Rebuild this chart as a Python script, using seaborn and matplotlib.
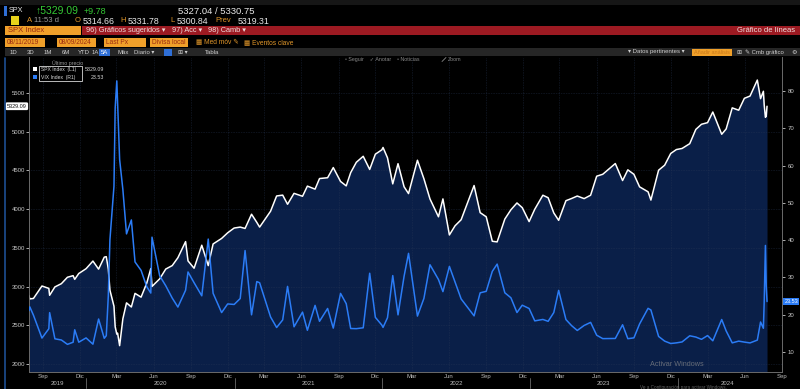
import pandas as pd
import seaborn as sns
import matplotlib.pyplot as plt
import matplotlib.dates as mdates
from matplotlib.patches import Rectangle
from matplotlib.transforms import blended_transform_factory

# Datos (cierres aproximados SPX / VIX)
fechas = [
    "2019-08-12", "2019-08-14", "2019-08-23", "2019-09-13", "2019-09-30", "2019-10-02",
    "2019-10-15", "2019-10-31", "2019-11-15", "2019-11-29", "2019-12-03", "2019-12-13",
    "2019-12-31", "2020-01-17", "2020-01-31", "2020-02-14", "2020-02-19", "2020-02-24",
    "2020-02-28", "2020-03-09", "2020-03-12", "2020-03-16", "2020-03-18", "2020-03-23",
    "2020-03-31", "2020-04-09", "2020-04-21", "2020-04-30", "2020-05-15", "2020-05-29",
    "2020-06-08", "2020-06-11", "2020-06-30", "2020-07-15", "2020-07-31", "2020-08-14",
    "2020-09-02", "2020-09-08", "2020-09-23", "2020-10-12", "2020-10-28", "2020-11-09",
    "2020-11-30", "2020-12-15", "2020-12-31", "2021-01-15", "2021-01-27", "2021-02-12",
    "2021-02-25", "2021-03-04", "2021-03-31", "2021-04-15", "2021-04-30", "2021-05-12",
    "2021-05-28", "2021-06-18", "2021-06-30", "2021-07-19", "2021-07-30", "2021-08-19",
    "2021-09-02", "2021-09-20", "2021-10-04", "2021-10-15", "2021-10-29", "2021-11-15",
    "2021-12-01", "2021-12-15", "2021-12-31", "2022-01-03", "2022-01-14", "2022-01-27",
    "2022-02-09", "2022-02-24", "2022-03-07", "2022-03-29", "2022-04-14", "2022-04-29",
    "2022-05-20", "2022-05-31", "2022-06-16", "2022-06-30", "2022-07-15", "2022-08-16",
    "2022-08-31", "2022-09-15", "2022-09-30", "2022-10-12", "2022-10-31", "2022-11-15",
    "2022-11-30", "2022-12-13", "2022-12-30", "2023-01-13", "2023-02-02", "2023-02-15",
    "2023-03-01", "2023-03-13", "2023-03-31", "2023-04-14", "2023-04-28", "2023-05-15",
    "2023-05-31", "2023-06-15", "2023-06-30", "2023-07-31", "2023-08-18", "2023-08-31",
    "2023-09-15", "2023-09-29", "2023-10-20", "2023-10-27", "2023-11-15", "2023-11-30",
    "2023-12-15", "2023-12-29", "2024-01-12", "2024-01-31", "2024-02-15", "2024-02-29",
    "2024-03-15", "2024-03-28", "2024-04-19", "2024-04-30", "2024-05-15", "2024-05-31",
    "2024-06-14", "2024-06-28", "2024-07-16", "2024-07-24", "2024-07-31", "2024-08-02",
    "2024-08-05", "2024-08-07", "2024-08-09",
]
spx = [
    2883.1, 2840.6, 2847.1, 3007.4, 2976.7, 2887.6, 2995.7, 3037.6, 3120.5, 3141.0, 3093.2, 3168.8,
    3230.8, 3329.6, 3225.5, 3380.2, 3386.2, 3225.9, 2954.2, 2746.6, 2480.6, 2386.1, 2398.1, 2237.4,
    2584.6, 2789.8, 2736.6, 2912.4, 2863.7, 3044.3, 3232.4, 3002.1, 3100.3, 3226.6, 3271.1, 3372.9,
    3580.8, 3331.8, 3236.9, 3534.2, 3271.0, 3550.5, 3621.6, 3694.6, 3756.1, 3768.3, 3750.8, 3934.8,
    3829.3, 3768.5, 3972.9, 4170.4, 4181.2, 4063.0, 4204.1, 4166.5, 4297.5, 4258.5, 4395.3, 4405.8,
    4537.0, 4357.7, 4300.5, 4471.4, 4605.4, 4682.8, 4513.0, 4709.9, 4766.2, 4796.6, 4662.9, 4326.5,
    4587.2, 4288.7, 4201.1, 4631.6, 4392.6, 4131.9, 3901.4, 4132.2, 3666.8, 3785.4, 3863.2, 4305.2,
    3955.0, 3901.4, 3585.6, 3577.0, 3872.0, 3991.7, 4080.1, 4019.7, 3839.5, 3999.1, 4179.8, 4147.6,
    3951.4, 3855.8, 4109.3, 4137.6, 4169.5, 4136.3, 4179.8, 4425.8, 4450.4, 4589.0, 4369.7, 4507.7,
    4450.3, 4288.1, 4224.2, 4117.4, 4502.9, 4567.8, 4719.2, 4769.8, 4783.8, 4845.7, 5029.7, 5096.3,
    5117.1, 5254.4, 4967.2, 5035.7, 5308.2, 5277.5, 5431.6, 5460.5, 5667.2, 5427.1, 5522.3, 5346.6,
    5186.3, 5199.5, 5329.09,
]
vix = [
    21.09, 22.10, 19.87, 13.74, 16.24, 20.56, 13.54, 13.22, 12.05, 12.62, 15.96, 12.63,
    13.78, 12.10, 18.84, 13.68, 14.38, 25.03, 40.11, 54.46, 75.47, 82.69, 76.45, 61.59,
    53.54, 41.67, 45.41, 34.15, 31.89, 27.51, 25.81, 40.79, 30.43, 27.76, 24.46, 22.05,
    26.57, 31.46, 28.58, 25.07, 40.28, 25.75, 20.57, 22.89, 22.75, 24.34, 37.21, 19.97,
    28.89, 28.57, 19.40, 16.57, 18.61, 27.59, 16.76, 20.70, 15.83, 22.50, 18.24, 21.67,
    16.41, 25.71, 22.96, 16.30, 16.26, 16.49, 31.12, 19.29, 17.22, 16.60, 19.19, 30.49,
    19.96, 30.32, 36.45, 19.63, 24.37, 33.40, 29.43, 26.19, 32.95, 28.71, 24.23, 19.69,
    25.87, 26.27, 31.62, 33.57, 25.88, 24.54, 20.58, 22.55, 21.67, 18.35, 18.73, 18.23,
    20.58, 26.52, 18.70, 17.07, 15.78, 17.12, 17.94, 14.50, 13.59, 13.63, 17.30, 13.57,
    13.79, 17.52, 21.71, 21.27, 14.18, 12.92, 12.28, 12.45, 12.70, 14.35, 14.01, 13.40,
    14.41, 13.01, 18.71, 15.65, 12.45, 12.92, 12.66, 12.44, 13.19, 18.04, 16.36, 23.39,
    38.57, 27.85, 23.53,
]
spx_ticks = [2000, 2500, 3000, 3500, 4000, 4500, 5000, 5500]
vix_ticks = [10, 20, 30, 40, 50, 60, 70, 80]
meses = {3: "Mar", 6: "Jun", 9: "Sep", 12: "Dic"}

df = pd.DataFrame({"fecha": pd.to_datetime(fechas), "spx": spx, "vix": vix})

sns.set_theme(style="dark")
plt.rcParams["font.family"] = ["Liberation Sans", "DejaVu Sans"]

W, H = 800, 389
fig = plt.figure(figsize=(8, 3.89), dpi=100, facecolor="black")


def fx(x):
    return x / W


def fy(y):
    return 1 - y / H


def rect(x0, y0, x1, y1, color, ec="none", lw=0.6):
    fig.patches.append(Rectangle((fx(x0), fy(y1)), (x1 - x0) / W, (y1 - y0) / H,
                                 transform=fig.transFigure, facecolor=color,
                                 edgecolor=ec, linewidth=lw))


def txt(x, y, s, color="#d0d0d0", size=5, ha="left", **kw):
    fig.text(fx(x), fy(y), s, color=color, fontsize=size, ha=ha, va="center", **kw)


# ---- cabecera estilo terminal ----
rect(0, 0, 800, 5, "#161616")
rect(4, 6, 7, 16, "#2f6fd6")
txt(9, 11, "SPX", "#e8e8e8", 5.2)
txt(36, 11, "↑5329.09", "#35c935", 7.5)
txt(84, 11, "+9.78", "#35c935", 6.5)
txt(178, 11, "5327.04 / 5330.75", "#e8e8e8", 6.8)
rect(11, 16, 19, 25, "#e8d31a")
txt(27, 21, "A", "#e0962a", 5.5)
txt(34, 21, "11:53 d", "#9a9a9a", 5.5)
txt(75, 21, "O", "#e0962a", 5.5)
txt(83, 21, "5314.66", "#e8e8e8", 6.3)
txt(120, 21, "H", "#e0962a", 5.5)
txt(128, 21, "5331.78", "#e8e8e8", 6.3)
txt(170, 21, "L", "#e0962a", 5.5)
txt(177, 21, "5300.84", "#e8e8e8", 6.3)
txt(215, 21, "Prev", "#e0962a", 5.5)
txt(238, 21, "5319.31", "#e8e8e8", 6.3)

rect(5, 26, 81, 35, "#f0a02a")
txt(8, 30.5, "SPX Index", "#9a2a10", 5.5)
rect(82, 26, 800, 35, "#9c1a22")
txt(86, 30.5, "96) Gráficos sugeridos ▾", "#f0dede", 5.3)
txt(172, 30.5, "97) Acc ▾", "#f0dede", 5.3)
txt(208, 30.5, "98) Camb ▾", "#f0dede", 5.3)
txt(795, 30.5, "Gráfico de líneas", "#f0dede", 5.5, ha="right")

rect(5, 38, 45, 47, "#f0a02a")
txt(7, 42.5, "08/11/2019", "#9a2a10", 4.8)
rect(57, 38, 96, 47, "#f0a02a")
txt(59, 42.5, "08/09/2024", "#9a2a10", 4.8)
rect(104, 38, 146, 47, "#f0a02a")
txt(106, 42.5, "Last Px", "#9a2a10", 4.8)
rect(150, 38, 188, 47, "#f0a02a")
txt(152, 42.5, "Divisa local", "#9a2a10", 4.8)
txt(196, 42.5, "▦ Med móv ✎", "#e0962a", 4.8)
txt(244, 42.5, "▦ Eventos clave", "#e0962a", 4.8)

rect(5, 48, 800, 56, "#262626")
for x, s in [(10, "1D"), (27, "3D"), (44, "1M"), (62, "6M"), (78, "YTD"), (92, "1A"),
             (117, "Máx"), (134, "Diario ▾"), (178, "⊞ ▾"), (205, "Tabla")]:
    txt(x, 52, s, "#cfcfcf", 4.3)
rect(99, 48.5, 110, 55.5, "#2f6fd6")
txt(101, 52, "5A", "#ffffff", 4.3)
rect(164, 48.5, 172, 55.5, "#2f6fd6")
txt(628, 52, "▾ Datos pertinentes ▾", "#cfcfcf", 4.3)
rect(692, 48.5, 732, 55.5, "#f0a02a")
txt(694, 52, "Añadir análisis", "#c8781a", 4.0)
txt(736, 52, "⊞", "#cfcfcf", 4.3)
txt(745, 52, "✎ Cmb gráfico", "#cfcfcf", 4.3)
txt(791, 52, "⚙", "#cfcfcf", 4.5)
txt(345, 59.5, "▫ Seguir    ✓ Anotar    ▫ Noticias", "#8a8a8a", 3.8)
# icono de zoom (flecha diagonal) dibujado como forma
fig.add_artist(plt.Line2D([fx(442), fx(446)], [fy(61.5), fy(57.5)],
                          transform=fig.transFigure, color="#8a8a8a", lw=0.6))
txt(448, 59.5, "Zoom", "#8a8a8a", 3.8)

fig.add_artist(plt.Line2D([fx(5), fx(5)], [fy(58), 0], transform=fig.transFigure,
                          color="#1d4f92", lw=1.2))

# ---- gráfico principal ----
ax = fig.add_axes([29 / W, 1 - 372 / H, 753 / W, 315 / H])
ax.set_facecolor("black")
ax2 = ax.twinx()

x0 = pd.Timestamp("2019-08-12")
x1 = pd.Timestamp("2024-09-02")
ylo, yhi = 1897, 5965

ax.fill_between(df["fecha"], ylo, df["spx"], color="#0a1f48", lw=0, zorder=1)
for t in spx_ticks:
    ax.axhline(t, color="#2a3a58", lw=0.4, ls=(0, (1, 2)), zorder=1.5)

label_pos = []
label_txt = []
for d in pd.date_range("2019-08-01", "2024-09-01", freq="MS"):
    if d.month in meses:
        mid = d + pd.Timedelta(days=14)
        label_pos.append(mid)
        label_txt.append(meses[d.month])
        ax.axvline(mid, color="#2a3a58", lw=0.4, ls=(0, (1, 2)), zorder=1.5)

sns.lineplot(data=df, x="fecha", y="spx", ax=ax, color="white", lw=1.1, zorder=3)
sns.lineplot(data=df, x="fecha", y="vix", ax=ax2, color="#2b7cf6", lw=1.1, zorder=3)

ax.set_xlim(x0, x1)
ax.set_ylim(ylo, yhi)
ax2.set_ylim(4.64, 89.1)
ax.set_xlabel("")
ax.set_ylabel("")
ax2.set_ylabel("")
ax.set_yticks(spx_ticks)
ax2.set_yticks(vix_ticks)
ax.set_xticks(label_pos)
ax.set_xticklabels(label_txt)
ax.xaxis.set_minor_locator(mdates.MonthLocator())
ax.grid(False)
ax2.grid(False)

ax.tick_params(axis="y", colors="#c8c8c8", labelsize=4.3, length=2, width=0.6, pad=1)
ax2.tick_params(axis="y", colors="#c8c8c8", labelsize=4.3, length=2, width=0.6, pad=2)
ax.tick_params(axis="x", which="major", colors="#bdbdbd", labelsize=4.3, length=0, pad=1.5)
ax.tick_params(axis="x", which="minor", color="#8a8a8a", length=1.5, width=0.5)

for a in (ax, ax2):
    a.spines["top"].set_visible(False)
    for side in ("left", "bottom", "right"):
        a.spines[side].set_color("#6a6a6a")
        a.spines[side].set_linewidth(0.6)

# años y separadores
tr = blended_transform_factory(ax.transData, ax.transAxes)
for yr in range(2019, 2025):
    a = max(pd.Timestamp(f"{yr}-01-01"), x0)
    b = min(pd.Timestamp(f"{yr + 1}-01-01"), x1)
    ax.text(a + (b - a) / 2, -0.035, str(yr), transform=tr, color="#bdbdbd",
            fontsize=4.3, ha="center", va="center", clip_on=False)
    if yr > 2019:
        ax.plot([a, a], [-0.018, -0.05], transform=tr, color="#6a6a6a", lw=0.6,
                clip_on=False)

# etiquetas de último precio en los ejes
trl = blended_transform_factory(ax.transAxes, ax.transData)
ax.text(-0.003, spx[-1], f"{spx[-1]:.2f}", transform=trl, ha="right", va="center",
        fontsize=4.0, color="#111111",
        bbox=dict(boxstyle="round,pad=0.25", fc="white", ec="none"))
trr = blended_transform_factory(ax2.transAxes, ax2.transData)
ax2.text(1.003, vix[-1], f"{vix[-1]:.2f}", transform=trr, ha="left", va="center",
         fontsize=4.0, color="white",
         bbox=dict(boxstyle="square,pad=0.25", fc="#2b7cf6", ec="none"))

# leyenda
txt(52, 63.5, "Último precio", "#9a9a9a", 3.8)
rect(39, 65.5, 82, 81, "#000000", ec="#d8d8d8", lw=0.6)
rect(33, 67, 37, 71, "#ffffff")
rect(33, 75, 37, 79, "#2b7cf6")
txt(41, 69.5, "SPX Index  (L1)", "#d8d8d8", 3.6)
txt(41, 77.5, "VIX Index  (R1)", "#d8d8d8", 3.6)
txt(104, 69.5, f"{spx[-1]:.2f}", "#d8d8d8", 3.8, ha="right")
txt(104, 77.5, f"{vix[-1]:.2f}", "#d8d8d8", 3.8, ha="right")

# marca de agua del escritorio
txt(650, 364, "Activar Windows", "#8c8c8c", 5.2, alpha=0.7)
txt(640, 387, "Ve a Configuración para activar Windows.", "#8c8c8c", 3.3, alpha=0.7)

fig.savefig("out.png", dpi=100, facecolor="black")
